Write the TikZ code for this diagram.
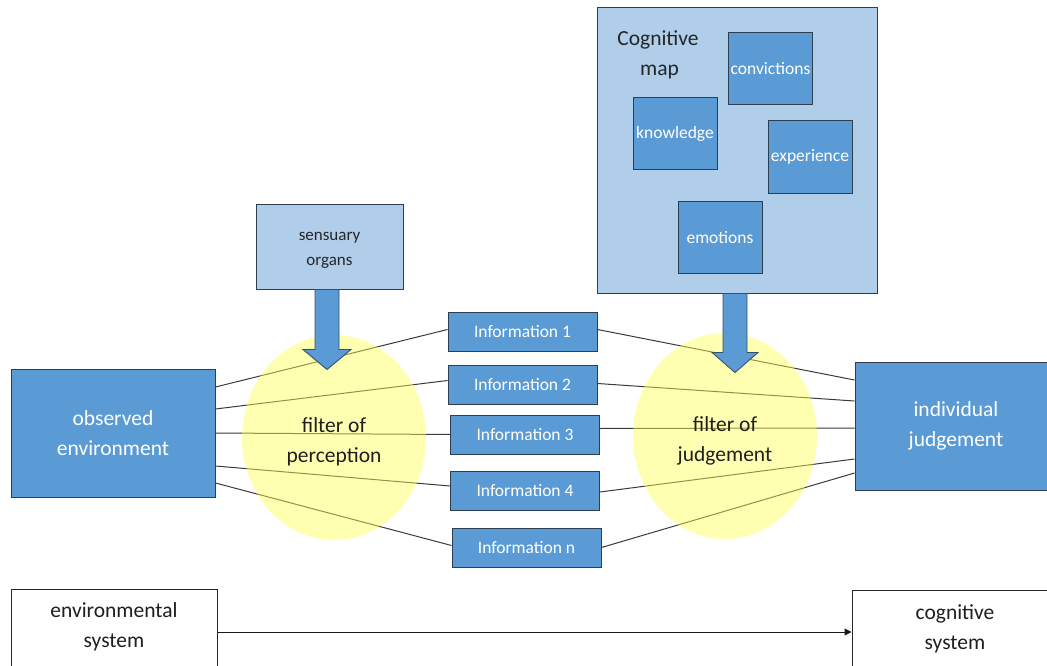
\documentclass[tikz,border=0pt]{standalone}
\usepackage{fontspec}
\setmainfont{Carlito}
\usetikzlibrary{calc,arrows.meta}

\definecolor{boxblue}{HTML}{5B9BD5}
\definecolor{boxedge}{HTML}{2F3E4E}
\definecolor{lightblue}{HTML}{B0CDE9}
\definecolor{filteryellow}{HTML}{FFFF55}
\definecolor{linkgray}{HTML}{3A3A3A}

\tikzset{
  bluebox/.style={draw=boxedge, line width=1pt, fill=boxblue, text=white,
    inner sep=0pt, align=center, anchor=center},
  lightbox/.style={draw=boxedge, line width=1pt, fill=lightblue, text=black!85,
    inner sep=0pt, align=center, anchor=center},
  infobox/.style={bluebox, minimum width=149, minimum height=39,
    font=\fontsize{17.5}{20}\selectfont},
  mapitem/.style={bluebox, minimum width=84, minimum height=72,
    font=\fontsize{17.5}{20}\selectfont},
  bigtext/.style={font=\fontsize{21.5}{30}\selectfont},
  filterzone/.style={fill=filteryellow, fill opacity=0.45, draw=none},
  filterlabel/.style={bigtext, text=black!88, align=center},
  link/.style={draw=linkgray, line width=1pt},
  blockarrow/.style={fill=boxblue, draw=boxedge!80!boxblue, line width=0.9pt, line join=miter},
  sysbox/.style={draw=black!85, line width=1pt, fill=white, inner sep=0pt},
  systext/.style={bigtext, text=black!88, align=center, inner sep=0pt},
}

\begin{document}
\begin{tikzpicture}[x=1pt,y=-1pt]
  \useasboundingbox (0,0) rectangle (1047,666);
  \clip (0,0) rectangle (1047,666);

  % cognitive map with its contents
  \node[lightbox, minimum width=280, minimum height=285] (cogmap) at (737,150.5) {};
  \node[bigtext, text=black!85, align=center, inner sep=0pt] (cogtitle) at (658,55) {Cognitive\\\hspace*{3pt}map};
  \node[mapitem] (conv) at (770.5,68.5) {convictions};
  \node[mapitem] (know) at (675,133.5) {knowledge};
  \node[mapitem] (exper) at (810,157) {experience};
  \node[mapitem] (emot) at (720,237.5) {emotions};

  % sensory input
  \node[lightbox, minimum width=147, minimum height=85,
        font=\fontsize{17}{25}\selectfont] (sens) at (329.5,246.5) {};
  \node[font=\fontsize{17}{25}\selectfont, text=black!85, align=center, inner sep=0pt]
    (senstext) at (329.5,250) {sensuary\\organs};

  % environment and judgement
  \node[bluebox, bigtext, minimum width=204, minimum height=128] (obs) at (113,433) {observed\\environment};
  \node[bluebox, bigtext, minimum width=220, minimum height=128] (indiv) at (965,426) {\hspace*{-18pt}individual\\\hspace*{-18pt}judgement};

  % pieces of information
  \node[infobox] (i1) at (522.5,331.5) {Information 1};
  \node[infobox] (i2) at (522.5,384.5) {Information 2};
  \node[infobox] (i3) at (525,434.5) {Information 3};
  \node[infobox] (i4) at (525,491) {Information 4};
  \node[infobox] (in) at (526.5,547.5) {Information n};

  % links from the environment to the information
  \draw[link] ([yshift=46]obs.east) -- ([yshift=2]i1.west);
  \draw[link] ([yshift=24]obs.east) -- ([yshift=4]i2.west);
  \draw[link] (obs.east) -- (i3.west);
  \draw[link] ([yshift=-33]obs.east) -- ([yshift=5]i4.west);
  \draw[link] ([yshift=-50]obs.east) -- ([yshift=2]in.west);

  % links from the information to the judgement
  \draw[link] ([yshift=2]i1.east) -- ([yshift=46]indiv.west);
  \draw[link] ([yshift=1]i2.east) -- ([yshift=25]indiv.west);
  \draw[link] ([yshift=6]i3.east) -- ([yshift=-2]indiv.west);
  \draw[link] ([yshift=-1]i4.east) -- ([yshift=-33]indiv.west);
  \draw[link] (in.east) -- ([yshift=-47]indiv.west);

  % the two filters
  \path[filterzone] (334,437.5) ellipse [x radius=92, y radius=102.5];
  \path[filterzone] (725,436) ellipse [x radius=92, y radius=103];
  \node[filterlabel] (perc) at (334,442) {filter of\\perception};
  \node[filterlabel] (judg) at (725,441) {filter of\\judgement};

  % block arrows into the filters
  \draw[blockarrow] ($(sens.south)+(-14.5,0)$) -- ($(sens.south)+(9.5,0)$)
    -- ($(sens.south)+(9.5,60)$) -- ($(sens.south)+(21.5,60)$)
    -- ($(sens.south)+(-2.5,80)$) -- ($(sens.south)+(-26.5,60)$)
    -- ($(sens.south)+(-14.5,60)$) -- cycle;
  \draw[blockarrow] ($(cogmap.south)+(-14,0)$) -- ($(cogmap.south)+(10,0)$)
    -- ($(cogmap.south)+(10,59)$) -- ($(cogmap.south)+(21,59)$)
    -- ($(cogmap.south)+(-2,79)$) -- ($(cogmap.south)+(-25,59)$)
    -- ($(cogmap.south)+(-14,59)$) -- cycle;

  % systems at the bottom
  \node[sysbox, minimum width=206, minimum height=86] (envsys) at (114,632) {};
  \node[systext] (envtext) at (114,627) {environmental\\system};
  \node[sysbox, minimum width=210, minimum height=84] (cogsys) at (957,632) {};
  \node[systext] (cogtext) at (955,629) {cognitive\\system};
  \draw[line width=1pt, draw=black!90, -{Triangle[length=7pt,width=7pt]}] (envsys.east) -- (cogsys.west);
\end{tikzpicture}
\end{document}
